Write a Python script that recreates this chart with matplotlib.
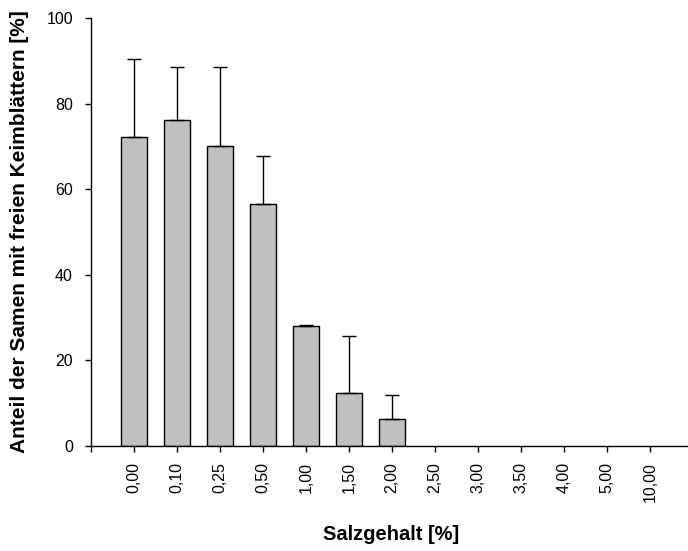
import matplotlib.pyplot as plt
import numpy as np

plt.rcParams['font.family'] = ['Liberation Sans', 'DejaVu Sans']

salz = ["0,00", "0,10", "0,25", "0,50", "1,00", "1,50", "2,00",
        "2,50", "3,00", "3,50", "4,00", "5,00", "10,00"]
anteil = [72.2, 76.3, 70.1, 56.5, 28.0, 12.4, 6.2, 0, 0, 0, 0, 0, 0]
fehler = [18.3, 12.3, 18.5, 11.3, 0.2, 13.3, 5.6, 0, 0, 0, 0, 0, 0]

fig = plt.figure(figsize=(6.88, 5.51), dpi=100)
ax = fig.add_axes([0.132, 0.191, 0.868, 0.776])

x = np.arange(1, len(salz) + 1)
n_bars = 7
ax.bar(x[:n_bars], anteil[:n_bars], width=0.61, color="#c0c0c0",
       edgecolor="black", linewidth=1.0, zorder=2)
ax.errorbar(x[:n_bars], anteil[:n_bars],
            yerr=[np.zeros(n_bars), fehler[:n_bars]],
            fmt="none", ecolor="black", elinewidth=1.0, capsize=4.7,
            capthick=1.0, zorder=3)

ax.set_xlim(0, 13.88)
ax.set_ylim(0, 100)
ax.set_yticks([0, 20, 40, 60, 80, 100])
ax.set_xticks(np.arange(0, len(salz) + 1))
ax.set_xticklabels([""] + salz, rotation=90)
ax.tick_params(axis="both", direction="out", length=4.3, width=1, labelsize=11.5)
ax.tick_params(axis="y", pad=8.6)
ax.tick_params(axis="x", pad=7.2)

ax.spines["top"].set_visible(False)
ax.spines["right"].set_visible(False)
ax.spines["left"].set_linewidth(1)
ax.spines["bottom"].set_linewidth(1)

ax.set_xlabel("Salzgehalt [%]", fontweight="bold", fontsize=14.5)
ax.set_ylabel("Anteil der Samen mit freien Keimblättern [%]", fontweight="bold",
              fontsize=15)
ax.xaxis.set_label_coords(0.503, -0.186)
ax.yaxis.set_label_coords(-0.104, 0.5)

fig.savefig("out.png", dpi=100)
